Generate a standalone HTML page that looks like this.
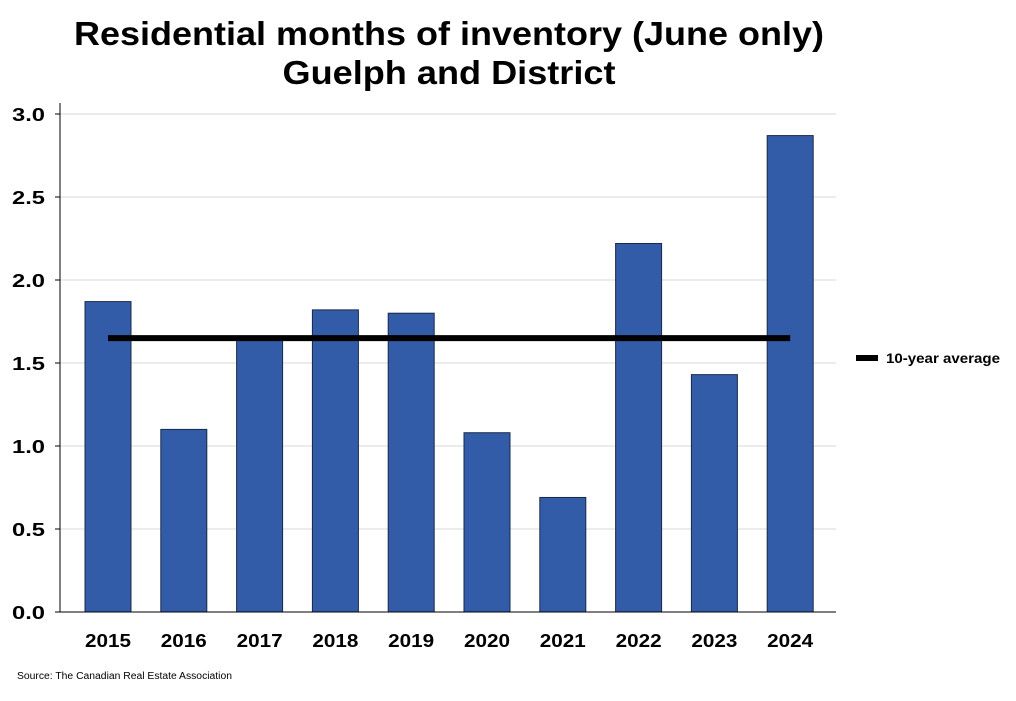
<!DOCTYPE html>
<html><head><meta charset="utf-8"><style>
body{margin:0;background:#fff;}
svg text{font-family:"Liberation Sans",Arial,sans-serif;}
</style></head><body>
<svg width="1016" height="696" viewBox="0 0 1016 696">
<text x="449" y="45" text-anchor="middle" font-size="33" font-weight="bold" textLength="750" lengthAdjust="spacingAndGlyphs">Residential months of inventory (June only)</text>
<text x="449" y="84" text-anchor="middle" font-size="33" font-weight="bold" textLength="333" lengthAdjust="spacingAndGlyphs">Guelph and District</text>
<g id="grid"></g><g id="bars"></g><g id="axes"></g>
<line x1="856" y1="358" x2="878" y2="358" stroke="#000" stroke-width="6"/>
<text x="886" y="363" font-size="14" font-weight="bold" textLength="114" lengthAdjust="spacingAndGlyphs">10-year average</text>
<text x="17" y="679" font-size="10" textLength="215" lengthAdjust="spacingAndGlyphs">Source: The Canadian Real Estate Association</text>
</svg>
<script>
const categories=["2015","2016","2017","2018","2019","2020","2021","2022","2023","2024"];
const values=[1.87,1.10,1.64,1.82,1.80,1.08,0.69,2.22,1.43,2.87];
const average=[1.65];
const yTicks=[0,0.5,1.0,1.5,2.0,2.5,3.0];
const NS="http://www.w3.org/2000/svg";
const x0=60,x1=836,y0=612,yTop=114;
const y=v=>y0-(v/3)*(y0-yTop);
const step=75.8,firstC=108;
const xc=i=>firstC+i*step;
function mk(t,a,p){const e=document.createElementNS(NS,t);for(const k in a)e.setAttribute(k,a[k]);p.appendChild(e);return e;}
const grid=document.getElementById('grid'),bars=document.getElementById('bars'),axes=document.getElementById('axes');
yTicks.forEach(t=>{
 if(t>0){const g=mk('line',{x1:x0,x2:x1,y1:y(t),y2:y(t),stroke:'#d9d9d9','stroke-width':1},grid);
 
 }
 const tk=mk('line',{x1:x0-5,x2:x0,y1:y(t),y2:y(t),stroke:'#000'},axes);
 
 
 const l=mk('text',{x:45,y:y(t)+7,'text-anchor':'end','font-size':18,'font-weight':'bold',textLength:33,lengthAdjust:'spacingAndGlyphs'},axes);
 l.textContent=t.toFixed(1);
 
 
});
categories.forEach((c,i)=>{
 const b=mk('rect',{x:xc(i)-23,y:y(values[i]),width:46,height:y0-y(values[i]),fill:'#335ca8',stroke:'#1a2a4a','stroke-width':1},bars);
 
 
 const l=mk('text',{x:xc(i),y:647,'text-anchor':'middle','font-size':18,'font-weight':'bold',textLength:46,lengthAdjust:'spacingAndGlyphs'},axes);
 l.textContent=c;
 
 
});
const al=mk('line',{x1:xc(0),x2:xc(categories.length-1),y1:y(average[0]),y2:y(average[0]),stroke:'#000','stroke-width':6},bars);


const ya=mk('line',{x1:x0,x2:x0,y1:103,y2:y0,stroke:'#000'},axes);


const xa=mk('line',{x1:x0,x2:x1,y1:y0,y2:y0,stroke:'#000'},axes);


</script>
</body></html>
